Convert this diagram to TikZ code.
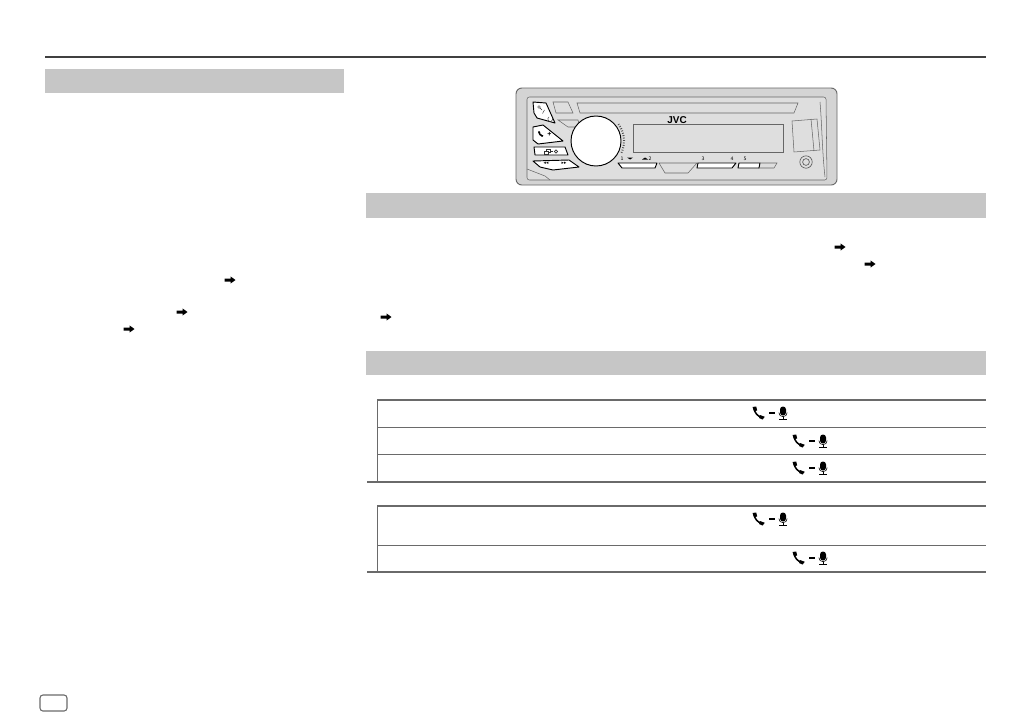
\documentclass[tikz,border=0pt]{standalone}
\usepackage{fontspec}
\setmainfont{Liberation Sans}
\newfontfamily\symfont{DejaVu Sans}
\usetikzlibrary{calc}
\definecolor{bandgray}{HTML}{C6C6C6}
\definecolor{rulegray}{HTML}{6A6A6A}
\definecolor{framegray}{HTML}{D4D4D4}
\definecolor{facegray}{HTML}{DEDEDE}
\tikzset{
  band/.style={fill=bandgray,draw=none},
  tablerule/.style={draw=rulegray,line width=0.7pt},
  tableedge/.style={draw=rulegray,line width=1.3pt},
  devline/.style={draw=black!60,line width=0.45pt},
  devkey/.style={draw=black,line width=0.8pt,fill=white,line join=round},
  devglyph/.style={draw=black!80,line width=0.4pt},
  devlabel/.style={font=\symfont\fontsize{4}{4}\selectfont,inner sep=0pt},
  seearrow/.pic={
    \fill[black] (-5.5,-1.5) -- (0.5,-1.5) -- (0.5,-3.6) -- (5.5,0) -- (0.5,3.6) -- (0.5,1.5) -- (-5.5,1.5) -- cycle;
  },
  handset/.pic={
    \draw[black,line width=1.3pt,line cap=round] (-5,-4.5) .. controls (-4.2,0) and (-1.5,3.2) .. (3,4.6);
    \fill[black] (-6.5,-6) -- (-2.8,-6.5) -- (-1.8,-2.5) -- (-5,-1.8) -- cycle;
    \fill[black] (1,2) -- (5.8,3.8) -- (3.6,6.5) -- (0,5) -- cycle;
  },
  phonemic/.pic={
    \pic at (-24,0) {handset};
    % dash
    \draw[black,line width=1pt] (-14,0) -- (-8,0);
    % microphone
    \fill[black,rounded corners=2.5pt] (-3,-6.5) rectangle (3,2.5);
    \draw[black,line width=0.5pt] (-4.2,-0.5) .. controls (-4.2,5) and (4.2,5) .. (4.2,-0.5);
    \draw[black,line width=0.5pt] (0,3.7) -- (0,6.5);
    \draw[black,line width=0.6pt] (-3.8,6.5) -- (3.8,6.5);
  }
}
\begin{document}
\begin{tikzpicture}[x=0.03cm,y=-0.03cm]
  \useasboundingbox[fill=white] (0,0) rectangle (1032,726);

  % Page rule and section bands
  \draw[black!75,line width=0.9pt] (45,57) -- (986,57);
  \fill[band] (45,69) rectangle (344,93);
  \fill[band] (366,193) rectangle (986,218);
  \fill[band] (366,351) rectangle (986,375);

  % Cross reference arrows
  \foreach \x/\y in {230/280,182/312,129/329,840/247,870/264,386/317} {
    \pic at (\x,\y) {seearrow};
  }

  % Tables
  \draw[tablerule] (377,400) -- (377,482);
  \draw[tablerule] (377,506) -- (377,572);
  \foreach \y in {427,454,545} {
    \draw[tablerule] (377,\y) -- (986,\y);
  }
  \foreach \y in {400,506} {
    \draw[tableedge] (377,\y) -- (986,\y);
  }
  \foreach \y in {482,572} {
    \draw[tableedge] (367,\y) -- (986,\y);
  }
  \foreach \x/\y in {783/413,823/441,823/468,783/519,823/558} {
    \pic at (\x,\y) {phonemic};
  }

  % Page tab
  \draw[rulegray,line width=0.9pt,rounded corners=2.5pt] (40,695) rectangle (67,711);

  % Receiver outline
  \draw[black!60,line width=0.8pt,fill=framegray,rounded corners=5pt] (516,88) rectangle (837,185);
  \draw[devline,fill=facegray,rounded corners=2pt] (527,97) -- (826,97) -- (827,180) -- (527,180) -- cycle;

  % Disc slot and upper panel
  \draw[devline] (553,102) -- (568,102) -- (573,113) -- (556,113) -- cycle;
  \draw[devline] (577,103) -- (798,103) -- (794,113) -- (580,113) -- cycle;
  \draw[devline] (558,120) -- (578,120) -- (580,127) -- (568,127) -- cycle;
  \draw[devline] (820,102) .. controls (822,125) and (822,150) .. (825,177);
  \draw[devline] (527,169) -- (545,176) -- (550,180);

  % Display
  \draw[devline] (633,124) rectangle (783,152);
  \node[font=\bfseries\fontsize{8.5}{9}\selectfont,inner sep=0pt] (logo) at (677,120.5) {JVC};

  % Card holder and aux socket
  \draw[devline] (792,121) -- (817,119) -- (820,150) -- (794,152) -- cycle;
  \draw[devline] (811,119) -- (814,151);
  \draw[black!70,line width=0.5pt] (806,162) circle (6.2);
  \draw[black!70,line width=0.5pt] (806,162) circle (3.4);

  % Volume knob
  \draw[black,line width=0.8pt,fill=white] (596,141) circle (25);
  \foreach \a in {-36,-31,...,24} {
    \draw[black!70,line width=0.7pt] ($(596,141)+(\a:27)$) -- ($(596,141)+(\a:29)$);
  }

  % Side keys
  \draw[devkey] (533,102) -- (546,103) -- (555,123) -- (537,118) -- (534,113) -- cycle;
  \draw[devkey] (533,127) -- (543,125) -- (563,141) -- (538,144) -- (533,140) -- cycle;
  \draw[devkey] (534,147) -- (565,147) -- (568,155) -- (535,155) -- cycle;
  \draw[devkey] (533,161) -- (569,160) -- (579,167) -- (553,170) -- (540,167) -- cycle;
  % key glyphs
  \draw[devglyph] (539,107) circle (1.4) (540,108) -- (542,110) (542.5,113.5) -- (544.5,110);
  \draw[devglyph] (549,117) arc (240:-30:2.4);
  \pic[scale=0.42] at (541,134) {handset};
  \node[font=\bfseries\fontsize{6}{6}\selectfont,inner sep=0pt] (keyb) at (549.5,134.5) {+};
  \draw[devglyph,line width=0.55pt] (544,151.5) rectangle (548,154) (546,151.5) -- (546,149.5) -- (550,149.5) -- (550,152) -- (548,152);
  \draw[devglyph,line width=0.6pt] (551,151.5) -- (553,151.5);
  \draw[devglyph,line width=0.6pt] (556,151.5) circle (1.6);
  \node[devlabel] (keyd) at (546,163.5) {◂◂};
  \node[devlabel] (keye) at (564,163.5) {▸▸};

  % Preset keys
  \draw[devkey] (618,163) -- (657,163) -- (655,168) -- (622,168) -- cycle;
  \draw[devline] (659,163) -- (697,163) -- (688,173) -- (665,173) -- cycle;
  \draw[devkey] (698,163) -- (736,163) -- (732,168) -- (697,168) -- cycle;
  \draw[devkey] (739,163) -- (760,163) -- (759,168) -- (738,168) -- cycle;
  \draw[devline] (760,163) -- (777,163) -- (774,168) -- (758,168);
  \foreach \x/\lab in {622/1,650/2,703/3,732/4,745/5} {
    \node[devlabel] (preset\lab) at (\x,158.5) {\lab};
  }
  \fill[black] (627,157.5) -- (633,157.5) -- (630,159.5) -- cycle;
  \fill[black] (642,159.5) -- (648,159.5) -- (645,157.5) -- cycle;
\end{tikzpicture}
\end{document}
